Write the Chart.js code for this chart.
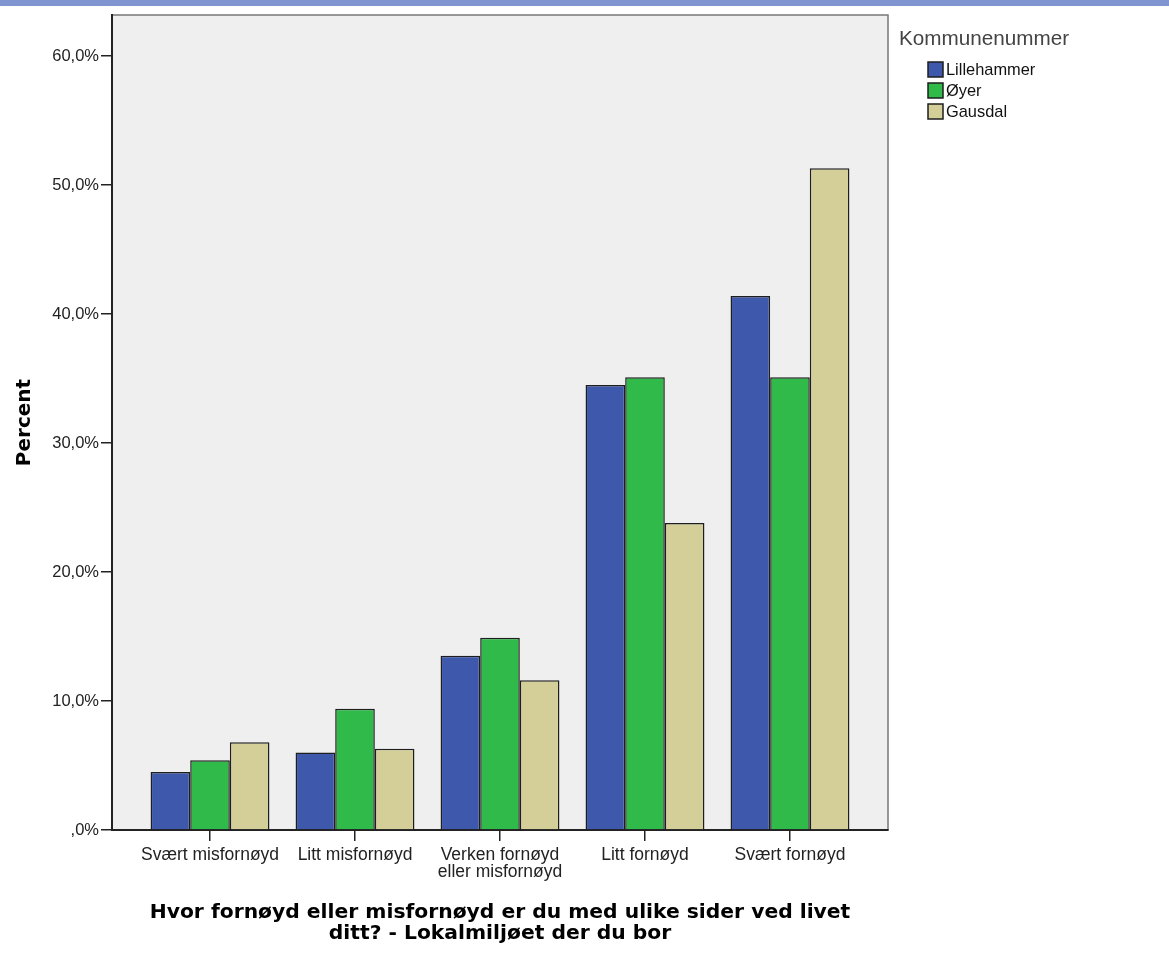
<!DOCTYPE html>
<html>
<head>
<meta charset="utf-8">
<script src="https://cdn.jsdelivr.net/npm/chart.js@4.4.1/dist/chart.umd.min.js"></script>
<style>
  body { margin: 0; background: #fff; }
  #band { position: absolute; left: 0; top: 0; width: 1169px; height: 6px; background: #7f95d0; }
  #wrap { position: absolute; left: 0; top: 0; width: 1169px; height: 963px; }
</style>
</head>
<body>
<div id="wrap"><canvas id="myChart" width="1169" height="963"></canvas></div>
<div id="band"></div>
<script>
const categories = ['Svært misfornøyd', 'Litt misfornøyd', ['Verken fornøyd', 'eller misfornøyd'], 'Litt fornøyd', 'Svært fornøyd'];
const seriesNames = ['Lillehammer', 'Øyer', 'Gausdal'];
const lillehammer = [4.5, 6.0, 13.5, 34.5, 41.4];
const oyer = [5.4, 9.4, 14.9, 35.1, 35.1];
const gausdal = [6.8, 6.3, 11.6, 23.8, 51.3];
const yTickValues = [0, 10, 20, 30, 40, 50, 60];
const yTickLabels = [',0%', '10,0%', '20,0%', '30,0%', '40,0%', '50,0%', '60,0%'];
const legendTitle = 'Kommunenummer';
const xTitle = ['Hvor fornøyd eller misfornøyd er du med ulike sider ved livet', 'ditt? - Lokalmiljøet der du bor'];
const yTitle = 'Percent';

const colors = ['#3e58ac', '#2fba4a', '#d4cf98'];
const seriesValues = [lillehammer, oyer, gausdal];

// grey plot background + frame
const plotBg = {
  id: 'plotBg',
  beforeDraw(chart) {
    const { ctx, chartArea: a } = chart;
    ctx.save();
    ctx.fillStyle = '#efefef';
    ctx.fillRect(a.left, a.top, a.right - a.left, a.bottom - a.top);
    ctx.strokeStyle = '#777';
    ctx.lineWidth = 1.5;
    ctx.strokeRect(a.left, a.top, a.right - a.left, a.bottom - a.top);
    ctx.restore();
  }
};

// SPSS style legend on the right
const sideLegend = {
  id: 'sideLegend',
  afterDraw(chart) {
    const ctx = chart.ctx;
    ctx.save();
    ctx.textBaseline = 'middle';
    ctx.textAlign = 'left';
    ctx.fillStyle = '#444';
    ctx.font = '20.7px "Liberation Sans", Arial, sans-serif';
    ctx.fillText(legendTitle, 899, 39);
    ctx.font = '16.4px "Liberation Sans", Arial, sans-serif';
    chart.data.datasets.forEach((ds, i) => {
      const y = 70 + i * 21;
      ctx.fillStyle = ds.backgroundColor;
      ctx.fillRect(928, y - 8, 15, 15);
      ctx.strokeStyle = '#1e1e1e';
      ctx.lineWidth = 1.5;
      ctx.strokeRect(928, y - 8, 15, 15);
      ctx.fillStyle = '#111';
      ctx.fillText(ds.label, 946, y);
    });
    ctx.restore();
  }
};

new Chart(document.getElementById('myChart'), {
  type: 'bar',
  data: {
    datasets: seriesNames.map((name, s) => ({
      label: name,
      data: seriesValues[s].map((v, i) => ({ x: i, y: v })),
      backgroundColor: colors[s],
      borderColor: '#1e1e1e',
      borderWidth: 1.5,
      categoryPercentage: 0.82,
      barPercentage: 1.0
    }))
  },
  plugins: [plotBg, sideLegend],
  options: {
    responsive: false,
    animation: false,
    layout: { padding: { top: 15, right: 281, left: 9, bottom: 0 } },
    plugins: {
      legend: { display: false },
      tooltip: { enabled: false }
    },
    scales: {
      x: {
        type: 'linear',
        offset: false,
        min: -0.676,
        max: 4.676,
        afterBuildTicks: (scale) => { scale.ticks = categories.map((c, i) => ({ value: i })); },
        afterFit: (scale) => { scale.height = 133; },
        ticks: {
          color: '#222',
          autoSkip: false,
          maxRotation: 0,
          padding: 5,
          font: { family: '"Liberation Sans", Arial, sans-serif', size: 17.5, lineHeight: 1.0 },
          callback: (v) => categories[v]
        },
        grid: { offset: false, drawOnChartArea: false, drawTicks: true, tickLength: 11, color: '#222', lineWidth: 1.5 },
        border: { display: true, color: '#222', width: 2 },
        title: {
          display: true,
          text: xTitle,
          color: '#000',
          padding: { top: 0, bottom: 19 },
          font: { family: '"DejaVu Sans", sans-serif', size: 20.3, weight: 'bold', lineHeight: 1.04 }
        }
      },
      y: {
        min: 0,
        max: 63.18,
        afterBuildTicks: (scale) => { scale.ticks = yTickValues.map(v => ({ value: v })); },
        afterFit: (scale) => { scale.width = 103; },
        ticks: {
          color: '#222',
          padding: 2,
          font: { family: '"Liberation Sans", Arial, sans-serif', size: 16.5 },
          callback: (v) => yTickLabels[yTickValues.indexOf(v)]
        },
        grid: { drawOnChartArea: false, drawTicks: true, tickLength: 11, color: '#222', lineWidth: 1.5 },
        border: { display: true, color: '#222', width: 2 },
        title: {
          display: true,
          text: yTitle,
          color: '#000',
          padding: { top: 4, bottom: 4 },
          font: { family: '"DejaVu Sans", sans-serif', size: 20, weight: 'bold' }
        }
      }
    }
  }
});
</script>
</body>
</html>
